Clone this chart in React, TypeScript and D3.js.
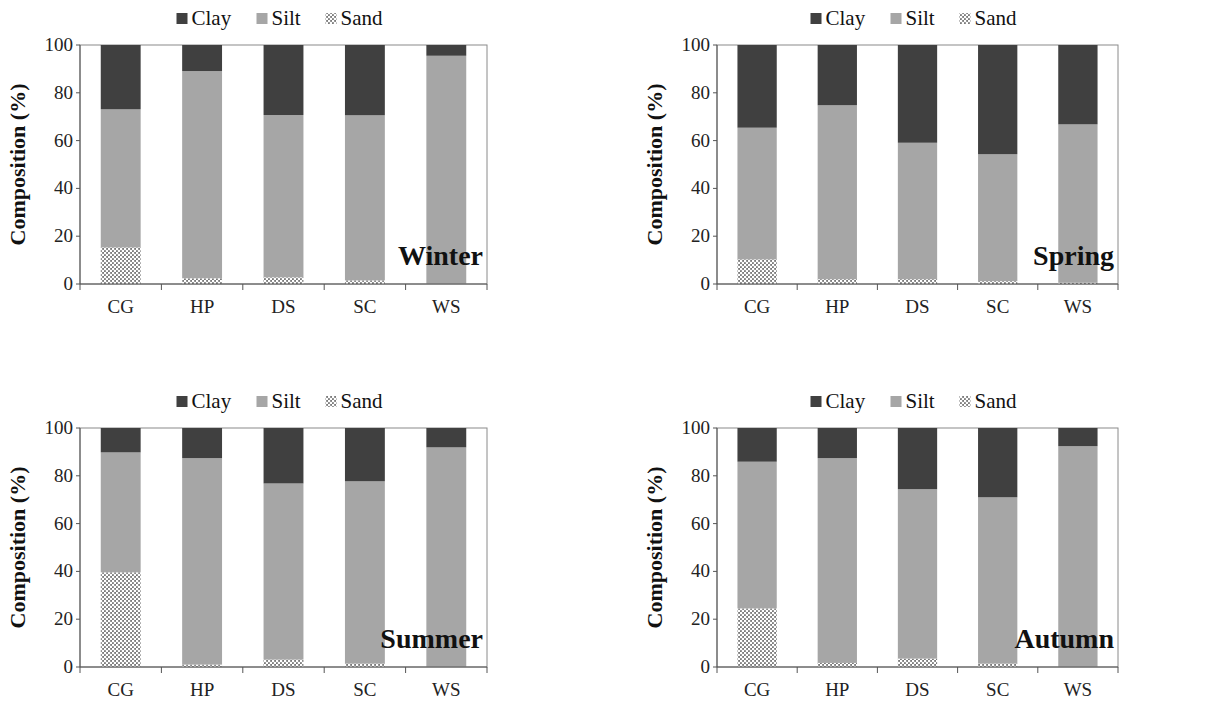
import React from 'react';
import * as d3 from 'd3';

// sites along the x axis
const sites = ['CG', 'HP', 'DS', 'SC', 'WS'];
const seasons = ['Winter', 'Spring', 'Summer', 'Autumn'];
const yTicks = [0, 20, 40, 60, 80, 100];

// composition (%) per site
const winterSand = [15.3, 2.4, 2.8, 1.5, 0];
const winterSilt = [57.8, 86.7, 67.9, 69.1, 95.5];
const winterClay = [26.9, 10.9, 29.3, 29.4, 4.5];

const springSand = [10.3, 2.0, 2.0, 1.2, 0.5];
const springSilt = [55.1, 72.8, 57.1, 53.1, 66.3];
const springClay = [34.6, 25.2, 40.9, 45.7, 33.2];

const summerSand = [39.6, 1.0, 3.1, 1.4, 0];
const summerSilt = [50.2, 86.4, 73.7, 76.3, 91.9];
const summerClay = [10.2, 12.6, 23.2, 22.3, 8.1];

const autumnSand = [24.5, 1.7, 3.5, 1.4, 0];
const autumnSilt = [61.4, 85.7, 70.9, 69.6, 92.4];
const autumnClay = [14.1, 12.6, 25.6, 29.0, 7.6];

const sandBySeason = [winterSand, springSand, summerSand, autumnSand];
const siltBySeason = [winterSilt, springSilt, summerSilt, autumnSilt];
const clayBySeason = [winterClay, springClay, summerClay, autumnClay];

const keys = ['sand', 'silt', 'clay'];
const fills: Record<string, string> = {
  clay: '#404040',
  silt: '#a6a6a6',
  sand: 'url(#sandPattern)',
};
const legendItems = [
  { key: 'clay', label: 'Clay' },
  { key: 'silt', label: 'Silt' },
  { key: 'sand', label: 'Sand' },
];
const legendOffsets = [-107, -27, 42];

// plot areas
const panels = [
  { left: 80, top: 45, right: 487, bottom: 284 },
  { left: 717, top: 45, right: 1118, bottom: 284 },
  { left: 80, top: 428, right: 487, bottom: 667 },
  { left: 717, top: 428, right: 1118, bottom: 667 },
];

const serif = { fontFamily: "'Liberation Serif', 'DejaVu Serif', serif" };

function Panel({ idx }: { idx: number }) {
  const p = panels[idx];
  const x = d3
    .scaleBand()
    .domain(sites)
    .range([p.left, p.right])
    .paddingInner(0.51)
    .paddingOuter(0.255);
  const y = d3.scaleLinear().domain([0, 100]).range([p.bottom, p.top]);

  const rows = sites.map((s, i) => ({
    site: s,
    sand: sandBySeason[idx][i],
    silt: siltBySeason[idx][i],
    clay: clayBySeason[idx][i],
  }));
  const series = d3.stack<any>().keys(keys)(rows);

  const step = x.step();
  const boundaries = d3.range(sites.length + 1).map((i) => p.left + i * step);
  const cx = (p.left + p.right) / 2;
  const cy = (p.top + p.bottom) / 2;

  return (
    <g>
      {/* frame */}
      <rect
        x={p.left}
        y={p.top}
        width={p.right - p.left}
        height={p.bottom - p.top}
        fill="none"
        stroke="#8a8a8a"
        strokeWidth={1}
      />
      {series.map((ser) => (
        <g key={ser.key} fill={fills[ser.key]}>
          {ser.map((d, i) => (
            <rect
              key={i}
              x={x(sites[i])}
              width={x.bandwidth()}
              y={y(d[1])}
              height={Math.max(0, y(d[0]) - y(d[1]))}
            />
          ))}
        </g>
      ))}
      {/* y axis */}
      <line x1={p.left} x2={p.left} y1={p.top} y2={p.bottom} stroke="#555" />
      {yTicks.map((t) => (
        <g key={t}>
          <line x1={p.left - 4} x2={p.left} y1={y(t)} y2={y(t)} stroke="#555" />
          <text
            x={p.left - 7}
            y={y(t) + 6}
            textAnchor="end"
            style={serif}
            fontSize={19}
            fill="#222"
          >
            {t}
          </text>
        </g>
      ))}
      {/* x axis */}
      <line x1={p.left} x2={p.right} y1={p.bottom} y2={p.bottom} stroke="#555" />
      {boundaries.map((b, i) => (
        <line key={i} x1={b} x2={b} y1={p.bottom} y2={p.bottom + 6} stroke="#555" />
      ))}
      {sites.map((s) => (
        <text
          key={s}
          x={(x(s) as number) + x.bandwidth() / 2}
          y={p.bottom + 29}
          textAnchor="middle"
          style={serif}
          fontSize={19}
          fill="#222"
        >
          {s}
        </text>
      ))}
      {/* axis title */}
      <text
        transform={`translate(${p.left - 55},${cy}) rotate(-90)`}
        textAnchor="middle"
        style={serif}
        fontWeight="bold"
        fontSize={22}
        fill="#111"
      >
        Composition (%)
      </text>
      {/* season label */}
      <text
        x={p.right - 4}
        y={p.bottom - 19}
        textAnchor="end"
        style={serif}
        fontWeight="bold"
        fontSize={28}
        fill="#111"
      >
        {seasons[idx]}
      </text>
      {/* legend */}
      {legendItems.map((it, i) => (
        <g key={it.key}>
          <rect
            x={cx + legendOffsets[i]}
            y={p.top - 32}
            width={11}
            height={11}
            fill={fills[it.key]}
          />
          <text
            x={cx + legendOffsets[i] + 15}
            y={p.top - 20}
            style={serif}
            fontSize={21}
            fill="#111"
          >
            {it.label}
          </text>
        </g>
      ))}
    </g>
  );
}

export default function App() {
  return (
    <svg
      width={1209}
      height={704}
      style={{ position: 'absolute', left: 0, top: 0, background: '#fff' }}
    >
      <defs>
        <pattern id="sandPattern" width={4} height={4} patternUnits="userSpaceOnUse">
          <rect width={4} height={4} fill="#7a7a7a" />
          <circle cx={1} cy={1} r={1.3} fill="#fff" />
          <circle cx={3} cy={3} r={1.3} fill="#fff" />
        </pattern>
      </defs>
      <rect width={1209} height={704} fill="#fff" />
      {panels.map((_, i) => (
        <Panel key={i} idx={i} />
      ))}
    </svg>
  );
}
